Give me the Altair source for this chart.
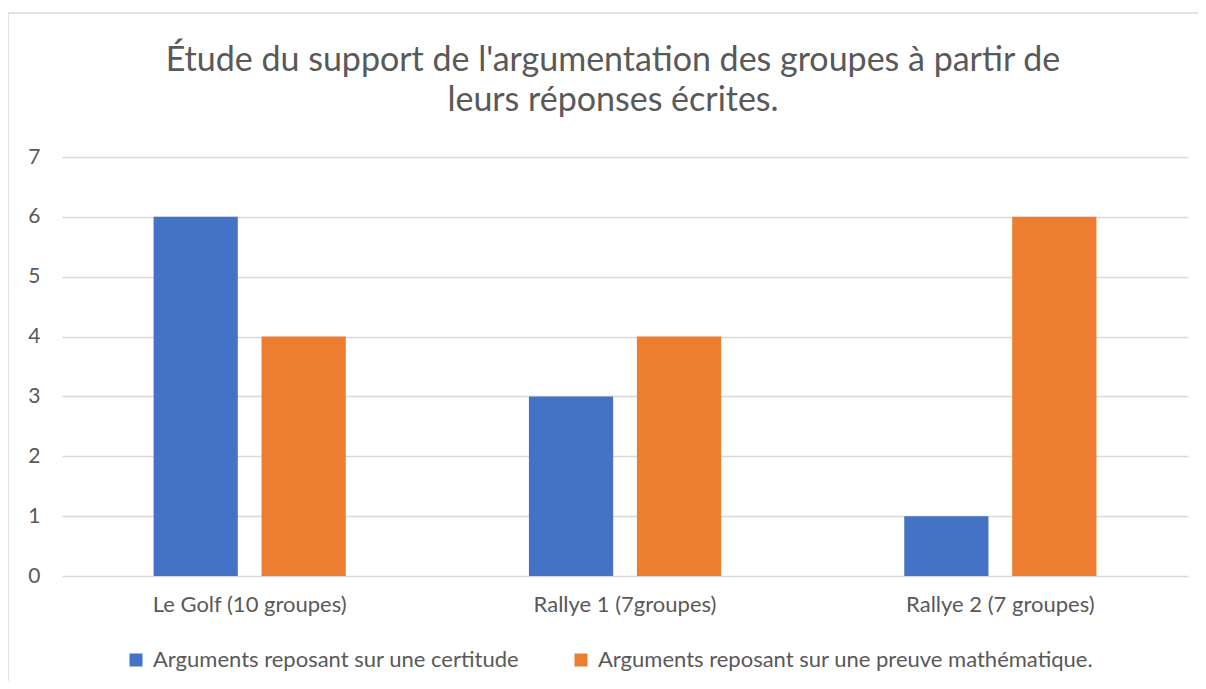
import altair as alt
import pandas as pd

categories = ["Le Golf (10 groupes)", "Rallye 1 (7groupes)", "Rallye 2 (7 groupes)"]
series = ["Arguments reposant sur une certitude", "Arguments reposant sur une preuve mathématique."]
certitude = [6, 3, 1]
preuve = [4, 4, 6]

rows = []
for i, c in enumerate(categories):
    rows.append({"cat": c, "serie": series[0], "val": certitude[i]})
    rows.append({"cat": c, "serie": series[1], "val": preuve[i]})
df = pd.DataFrame(rows)

FONT = "Lato"
GREY = "#595959"

frame = alt.Chart(pd.DataFrame({"a": [0]})).mark_rect(
    fillOpacity=0, stroke="#d9d9d9", strokeWidth=1.5
).encode(x=alt.value(-54), x2=alt.value(1170), y=alt.value(-144), y2=alt.value(560))

bars = alt.Chart(df).mark_bar().encode(
    x=alt.X("cat:N", sort=categories,
            scale=alt.Scale(paddingInner=0.488, paddingOuter=0.244),
            axis=alt.Axis(title=None, labelAngle=0, labelFont=FONT, labelFontSize=22,
                          labelColor=GREY, labelPadding=18, ticks=False, domain=False,
                          labelLimit=0)),
    xOffset=alt.XOffset("serie:N", sort=series,
                        scale=alt.Scale(paddingInner=0.22, paddingOuter=0)),
    y=alt.Y("val:Q", scale=alt.Scale(domain=[0, 7]),
            axis=alt.Axis(title=None, values=[0, 1, 2, 3, 4, 5, 6, 7], labelFont=FONT,
                          labelFontSize=21, labelColor=GREY, labelPadding=22,
                          ticks=False, domain=False, gridColor="#d9d9d9", gridWidth=1.3)),
    color=alt.Color("serie:N", sort=series,
                    scale=alt.Scale(domain=series, range=["#4472C4", "#ED7D31"]),
                    legend=alt.Legend(title=None, orient="none", legendX=63, legendY=492,
                                      direction="horizontal", symbolType="square",
                                      symbolSize=169, symbolStrokeWidth=0,
                                      labelFont=FONT, labelFontSize=22, labelColor=GREY,
                                      labelLimit=0, columnPadding=50, labelOffset=6)),
)

chart = alt.layer(frame, bars).properties(
    width=1126, height=419,
    padding={"left": 54, "top": 149, "right": 10, "bottom": 105},
    autosize=alt.AutoSizeParams(type="none"),
    title=alt.TitleParams(
        text=["Étude du support de l'argumentation des groupes à partir de",
              "leurs réponses écrites."],
        font=FONT, fontSize=34, fontWeight="normal", color=GREY,
        anchor="middle", dx=-12, offset=-106, lineHeight=40),
).configure_view(stroke=None)

chart.save("out.html", embed_options={"renderer": "svg", "actions": False})
